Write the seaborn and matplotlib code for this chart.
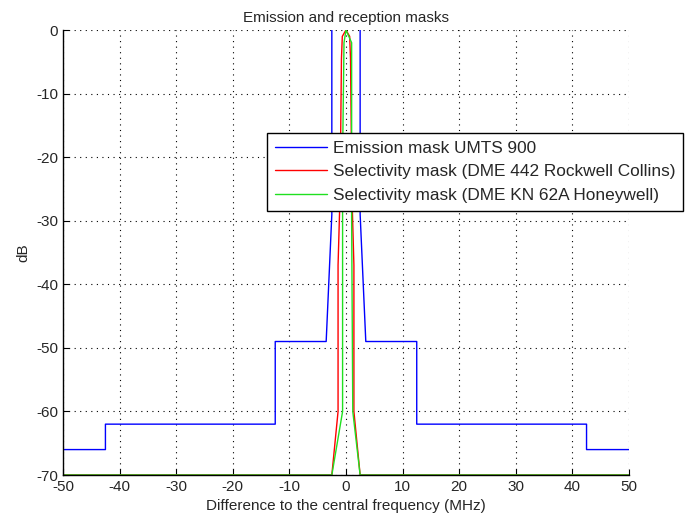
#!/usr/bin/env python3
"""Emission mask vs receiver selectivity masks."""

import pandas as pd
import matplotlib
matplotlib.use("Agg")
import matplotlib.pyplot as plt
import seaborn as sns

# Emission mask UMTS 900 (in-band part runs above 0 dB and is clipped)
umts_x = [-50, -42.5, -42.5, -12.5, -12.5, -3.5, -2.5, -2.5,
          2.5, 2.5, 3.5, 12.5, 12.5, 42.5, 42.5, 50]
umts_y = [-66, -66, -62, -62, -49, -49, -29, 10,
          10, -29, -49, -49, -62, -62, -66, -66]

# Selectivity mask DME 442 Rockwell Collins
rc_x = [-50, -2.5, -1.4, -1.4, -1.05, -0.8, -0.65, 0,
        0.65, 0.8, 1.05, 1.4, 1.4, 2.5, 50]
rc_y = [-70, -70, -60, -37, -26, -4.5, -1, 0,
        -1, -4.5, -26, -37, -60, -70, -70]

# Selectivity mask DME KN 62A Honeywell
kn_x = [-50, -2.5, -0.6, -0.6, -0.35, 0, 1.0, 1.0, 1.2, 2.5, 50]
kn_y = [-70, -70, -60, -20, -2, 0, -2, -30, -60, -70, -70]

labels = ["Emission mask UMTS 900",
          "Selectivity mask (DME 442 Rockwell Collins)",
          "Selectivity mask (DME KN 62A Honeywell)"]
colors = ["#0000ff", "#ff0000", "#20e020"]


def build_frame():
    parts = []
    for lab, xs, ys in zip(labels, [umts_x, rc_x, kn_x], [umts_y, rc_y, kn_y]):
        parts.append(pd.DataFrame({"freq": xs, "level": ys, "mask": lab}))
    return pd.concat(parts, ignore_index=True)


def main():
    sns.set_style("white")
    plt.rcParams["font.family"] = ["Liberation Sans", "DejaVu Sans"]
    plt.rcParams["font.size"] = 11
    plt.rcParams["axes.unicode_minus"] = False

    df = build_frame()

    fig = plt.figure(figsize=(6.86, 5.24), dpi=100)
    ax = fig.add_axes([0.0918, 0.0935, 0.8251, 0.8492])

    sns.lineplot(data=df, x="freq", y="level", hue="mask", palette=colors,
                 hue_order=labels, sort=False, estimator=None,
                 linewidth=1.0, ax=ax)

    ax.set_xlim(-50, 50)
    ax.set_ylim(-70, 0)
    ax.set_xticks(range(-50, 51, 10))
    ax.set_yticks(range(-70, 1, 10))
    ax.grid(True, color="black", linestyle=(0, (1, 4)), linewidth=0.8)
    ax.tick_params(direction="in", length=4, color="black", labelsize=11,
                   left=True, bottom=True)
    for side in ["top", "right"]:
        ax.spines[side].set_visible(False)
    for side in ["left", "bottom"]:
        ax.spines[side].set_color("black")
        ax.spines[side].set_linewidth(1.0)

    ax.set_title("Emission and reception masks", fontsize=11, pad=6)
    ax.set_xlabel("Difference to the central frequency (MHz)", fontsize=11)
    ax.set_ylabel("dB", fontsize=11)

    leg = ax.legend(loc="upper right", bbox_to_anchor=(683 / 686, 1 - 133 / 524),
                    bbox_transform=fig.transFigure, frameon=True, fancybox=False,
                    framealpha=1, edgecolor="black", fontsize=12.4,
                    handlelength=3.0, handletextpad=0.35, borderpad=0.45,
                    borderaxespad=0, labelspacing=0.5)
    leg.get_frame().set_linewidth(1.0)

    fig.savefig("out.png", dpi=100)
    plt.close(fig)


if __name__ == "__main__":
    main()
